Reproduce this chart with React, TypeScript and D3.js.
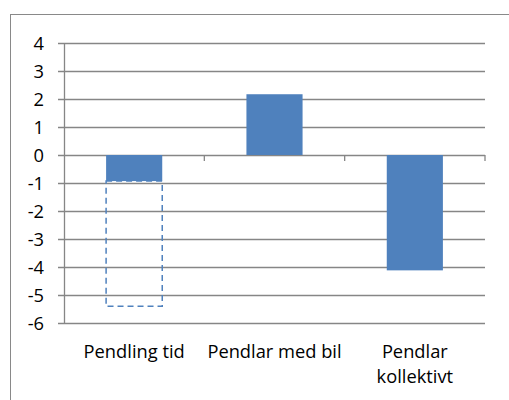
import React from "react";
import * as d3 from "d3";

const categories = ["Pendling tid", "Pendlar med bil", "Pendlar kollektivt"];
const categoryLines = [["Pendling tid"], ["Pendlar med bil"], ["Pendlar", "kollektivt"]];
const values = [-0.93, 2.17, -4.12];
const dashedFrom = [-0.93];
const dashedTo = [-5.4];
const yTicks = [4, 3, 2, 1, 0, -1, -2, -3, -4, -5, -6];

const W = 509;
const H = 400;
const left = 64;
const right = 485;
const top = 43;
const bottom = 323;
const blue = "#4F81BD";
const grid = "#868686";
const font = "Open Sans, sans-serif";
const fs = 18.3;

export default function App() {
  const x = d3.scaleBand<string>().domain(categories).range([left, right]).paddingInner(0.6).paddingOuter(0.3);
  const xb = d3.scaleBand<string>().domain(categories).range([left, right]);
  const y = d3.scaleLinear().domain([-6, 4]).range([bottom, top]);
  const y0 = y(0);
  return (
    <svg width={W} height={H} style={{ position: "absolute", left: 0, top: 0 }}>
      <rect x={0} y={0} width={W} height={H} fill="#fff" />
      <rect x={10.5} y={14.5} width={W + 10} height={H + 10} fill="none" stroke="#898989" strokeWidth={1} />
      {yTicks.map((t) => (
        <g key={t}>
          <line x1={left - 6} x2={right} y1={Math.round(y(t)) + 0.5} y2={Math.round(y(t)) + 0.5} stroke={grid} strokeWidth={1.3} />
          <text x={44} y={y(t)} dy="0.36em" textAnchor="end" fontFamily={font} fontSize={fs} fill="#000">
            {t}
          </text>
        </g>
      ))}
      <line x1={left + 0.5} x2={left + 0.5} y1={top} y2={bottom} stroke={grid} strokeWidth={1.3} />
      {categories.map((c) => (
        <line key={c} x1={xb(c)! + xb.bandwidth()} x2={xb(c)! + xb.bandwidth()} y1={y0} y2={y0 + 6} stroke={grid} strokeWidth={1.3} />
      ))}
      {categories.map((c, i) => (
        <rect
          key={c}
          x={x(c)}
          width={x.bandwidth()}
          y={y(Math.max(0, values[i]))}
          height={Math.abs(y(values[i]) - y0)}
          fill={blue}
        />
      ))}
      {dashedFrom.map((v, i) => (
        <rect
          key={i}
          x={x(categories[i])}
          width={x.bandwidth()}
          y={y(v)}
          height={y(dashedTo[i]) - y(v)}
          fill="none"
          stroke={blue}
          strokeWidth={1.5}
          strokeDasharray="6,4"
        />
      ))}
      {categories.map((c, i) => (
        <text key={c} textAnchor="middle" fontFamily={font} fontSize={fs} fill="#000">
          {categoryLines[i].map((ln, j) => (
            <tspan key={j} x={xb(c)! + xb.bandwidth() / 2} y={358 + j * 25}>
              {ln}
            </tspan>
          ))}
        </text>
      ))}
    </svg>
  );
}
